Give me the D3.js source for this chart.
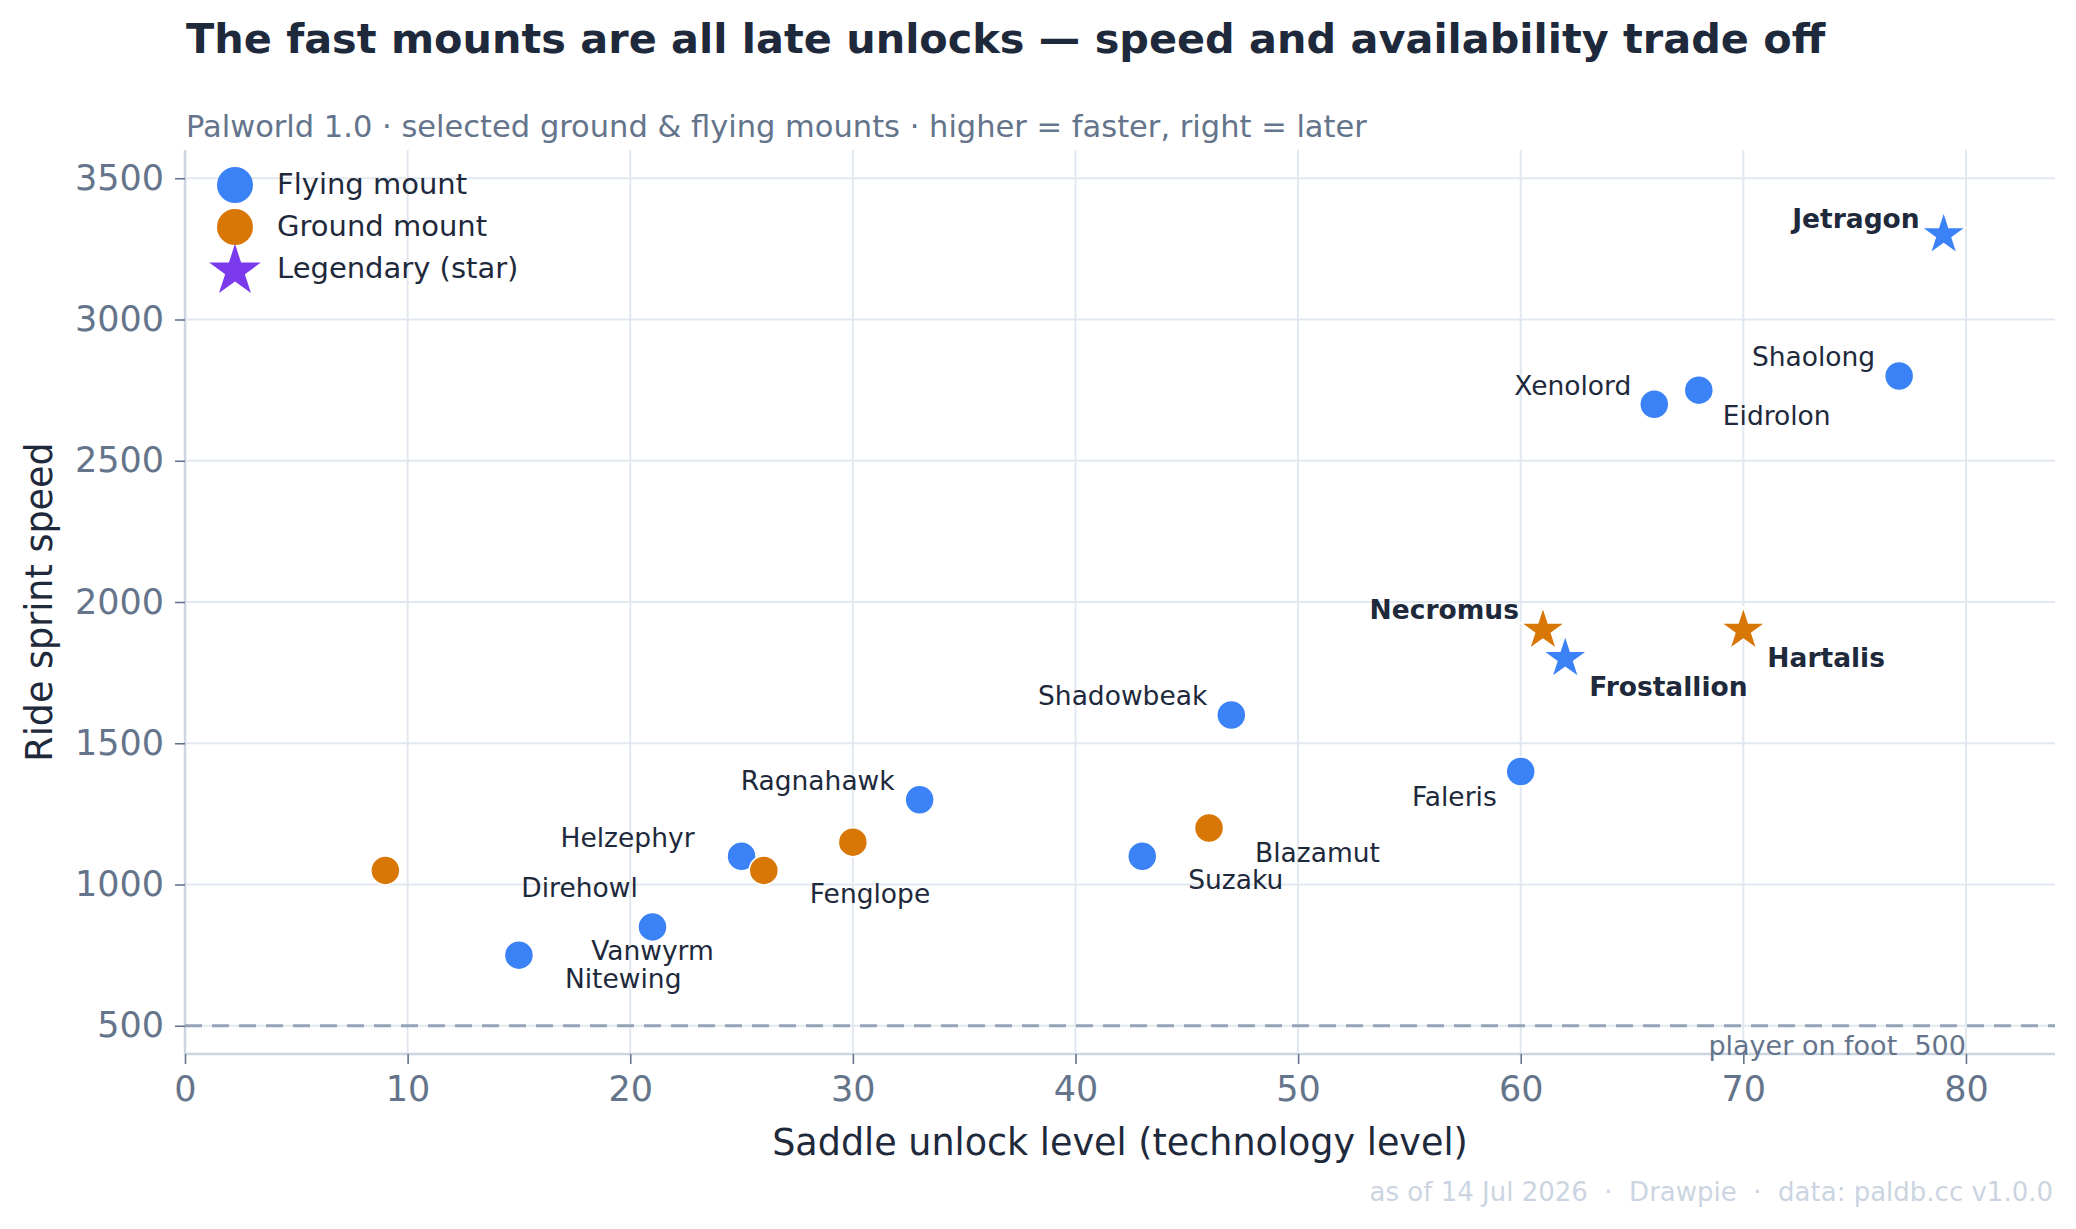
<!DOCTYPE html>
<html>
<head>
<meta charset="utf-8">
<script src="https://cdn.jsdelivr.net/npm/d3@7"></script>
<style>
  body { margin: 0; background: #fff; }
  svg text { font-family: "DejaVu Sans", sans-serif; }
</style>
</head>
<body>
<div id="chart"></div>
<script>
// mounts: saddle unlock level vs ride sprint speed

const names = ["Direhowl", "Nitewing", "Vanwyrm", "Helzephyr", "Fenglope", "", "Ragnahawk", "Suzaku", "Blazamut",
    "Shadowbeak", "Faleris", "Necromus", "Frostallion", "Xenolord", "Eidrolon", "Hartalis", "Shaolong", "Jetragon"];
const unlockLevel = [9, 15, 21, 25, 26, 30, 33, 43, 46, 47, 60, 61, 62, 66, 68, 70, 77, 79];
const sprintSpeed = [1050, 750, 850, 1100, 1050, 1150, 1300, 1100, 1200, 1600, 1400, 1900, 1800, 2700, 2750, 1900, 2800, 3300];
const mountType = ["ground", "flying", "flying", "flying", "ground", "ground", "flying", "flying", "ground",
    "flying", "flying", "ground", "flying", "flying", "flying", "ground", "flying", "flying"];
const legendary = [false, false, false, false, false, false, false, false, false,
    false, false, true, true, false, false, true, false, true];
const xTicks = [0, 10, 20, 30, 40, 50, 60, 70, 80];
const yTicks = [500, 1000, 1500, 2000, 2500, 3000, 3500];
const playerOnFoot = 500;

const width = 2076,
    height = 1229,
    margin = ({ top: 150, right: 21, bottom: 175, left: 185 });

const colors = { flying: "#3b82f6", ground: "#d97706", legend: "#7c3aed" };

// where each name sits relative to its marker (dx, baseline dy, anchor)
const labelPos = {
    Jetragon: [-24, -7, "end"],
    Shaolong: [-24, -10, "end"],
    Xenolord: [-23, -9, "end"],
    Eidrolon: [24, 35, "start"],
    Necromus: [-24, -11, "end"],
    Frostallion: [24, 37, "start"],
    Hartalis: [24, 37, "start"],
    Shadowbeak: [-24, -10, "end"],
    Faleris: [-24, 34, "end"],
    Blazamut: [46, 34, "start"],
    Suzaku: [46, 33, "start"],
    Ragnahawk: [-25, -10, "end"],
    Fenglope: [46, 33, "start"],
    Helzephyr: [-47, -9, "end"],
    Direhowl: [136, 27, "start"],
    Nitewing: [46, 33, "start"],
    Vanwyrm: [0, 33, "middle"]
};

const data = names.map((n, i) => ({
    name: n, level: unlockLevel[i], speed: sprintSpeed[i], type: mountType[i], star: legendary[i]
}));

const svg = d3.select("#chart")
    .append("svg")
    .attr("width", width)
    .attr("height", height)
    .attr("viewBox", [0, 0, width, height]);

const x = d3.scaleLinear()
    .domain([0, 84])
    .range([margin.left, width - margin.right]);

const y = d3.scaleLinear()
    .domain([400, 3600])
    .range([height - margin.bottom, margin.top]);

// grid
svg.append("g")
    .selectAll("line")
    .data(xTicks.slice(1))
    .join("line")
    .attr("x1", d => x(d)).attr("x2", d => x(d))
    .attr("y1", margin.top).attr("y2", height - margin.bottom)
    .attr("stroke", "#e2e8f0").attr("stroke-width", 2);

svg.append("g")
    .selectAll("line")
    .data(yTicks)
    .join("line")
    .attr("x1", margin.left).attr("x2", width - margin.right)
    .attr("y1", d => y(d)).attr("y2", d => y(d))
    .attr("stroke", "#e2e8f0").attr("stroke-width", 2);

// axes
const xAxis = svg.append("g")
    .attr("transform", `translate(0,${height - margin.bottom})`)
    .call(d3.axisBottom(x).tickValues(xTicks).tickSize(10).tickPadding(12).tickSizeOuter(0));

const yAxis = svg.append("g")
    .attr("transform", `translate(${margin.left},0)`)
    .call(d3.axisLeft(y).tickValues(yTicks).tickFormat(d3.format("d")).tickSize(10).tickPadding(11).tickSizeOuter(0));

for (const ax of [xAxis, yAxis]) {
    ax.select(".domain").attr("stroke", "#cbd5e1").attr("stroke-width", 2.5);
    ax.selectAll(".tick line").attr("stroke", "#64748b").attr("stroke-width", 1.6);
    ax.selectAll(".tick text").attr("fill", "#64748b")
        .style("font-size", "35px").style("font-family", "DejaVu Sans");
}
// spines should span the whole plot area
xAxis.select(".domain").attr("d", `M${margin.left},0H${width - margin.right}`);
yAxis.select(".domain").attr("d", `M0,${margin.top}V${height - margin.bottom}`);

// player on foot reference
svg.append("line")
    .attr("x1", margin.left).attr("x2", width - margin.right)
    .attr("y1", y(playerOnFoot)).attr("y2", y(playerOnFoot))
    .attr("stroke", "#94a3b8").attr("stroke-width", 3)
    .attr("stroke-dasharray", "17,10");

svg.append("text")
    .attr("x", x(80))
    .attr("y", y(playerOnFoot) + 29)
    .attr("text-anchor", "end")
    .attr("fill", "#64748b")
    .style("font-size", "27px")
    .style("white-space", "pre")
    .text(`player on foot  ${playerOnFoot}`);

// markers
const star = d3.symbol().type(d3.symbolStar);

svg.append("g")
    .selectAll("path")
    .data(data)
    .join("path")
    .attr("transform", d => `translate(${x(d.level)},${y(d.speed)})`)
    .attr("d", d => d.star ? star.size(600)() : d3.symbol().type(d3.symbolCircle).size(Math.PI * 14.5 * 14.5)())
    .attr("fill", d => colors[d.type])
    .attr("stroke", "#fff")
    .attr("stroke-width", 1.5);

// point labels
svg.append("g")
    .selectAll("text")
    .data(data.filter(d => d.name && labelPos[d.name]))
    .join("text")
    .attr("x", d => x(d.level) + labelPos[d.name][0])
    .attr("y", d => y(d.speed) + labelPos[d.name][1])
    .attr("text-anchor", d => labelPos[d.name][2])
    .attr("fill", "#1e293b")
    .style("font-size", "26.5px")
    .style("font-weight", d => d.star ? "bold" : "normal")
    .text(d => d.name);

// legend
const legendItems = [
    { label: "Flying mount", color: colors.flying, shape: "circle" },
    { label: "Ground mount", color: colors.ground, shape: "circle" },
    { label: "Legendary (star)", color: colors.legend, shape: "star" }
];

const legend = svg.append("g");
legendItems.forEach((d, i) => {
    const cy = 185 + i * 42;
    if (d.shape === "circle") {
        legend.append("circle").attr("cx", 235).attr("cy", cy).attr("r", 18).attr("fill", d.color);
    } else {
        legend.append("path")
            .attr("transform", `translate(235,${cy + 2})`)
            .attr("d", star.size(830)())
            .attr("fill", d.color);
    }
    legend.append("text")
        .attr("x", 277).attr("y", cy + 9)
        .attr("fill", "#1e293b")
        .style("font-size", "29px")
        .text(d.label);
});

// titles
svg.append("text")
    .attr("x", 186).attr("y", 53)
    .attr("fill", "#1e293b")
    .style("font-size", "41.4px").style("font-weight", "bold")
    .text("The fast mounts are all late unlocks \u2014 speed and availability trade off");

svg.append("text")
    .attr("x", 186).attr("y", 137)
    .attr("fill", "#64748b")
    .style("font-size", "30.5px")
    .text("Palworld 1.0 \u00b7 selected ground & flying mounts \u00b7 higher = faster, right = later");

svg.append("text")
    .attr("x", (margin.left + width - margin.right) / 2)
    .attr("y", 1155)
    .attr("text-anchor", "middle")
    .attr("fill", "#1e293b")
    .style("font-size", "36.5px")
    .text("Saddle unlock level (technology level)");

svg.append("text")
    .attr("transform", `translate(52,${(margin.top + height - margin.bottom) / 2}) rotate(-90)`)
    .attr("text-anchor", "middle")
    .attr("fill", "#1e293b")
    .style("font-size", "36.5px")
    .text("Ride sprint speed");

svg.append("text")
    .attr("x", 2053).attr("y", 1201)
    .attr("text-anchor", "end")
    .attr("fill", "#cbd5e1")
    .style("font-size", "26px")
    .style("white-space", "pre")
    .text("as of 14 Jul 2026  \u00b7  Drawpie  \u00b7  data: paldb.cc v1.0.0");
</script>
</body>
</html>
